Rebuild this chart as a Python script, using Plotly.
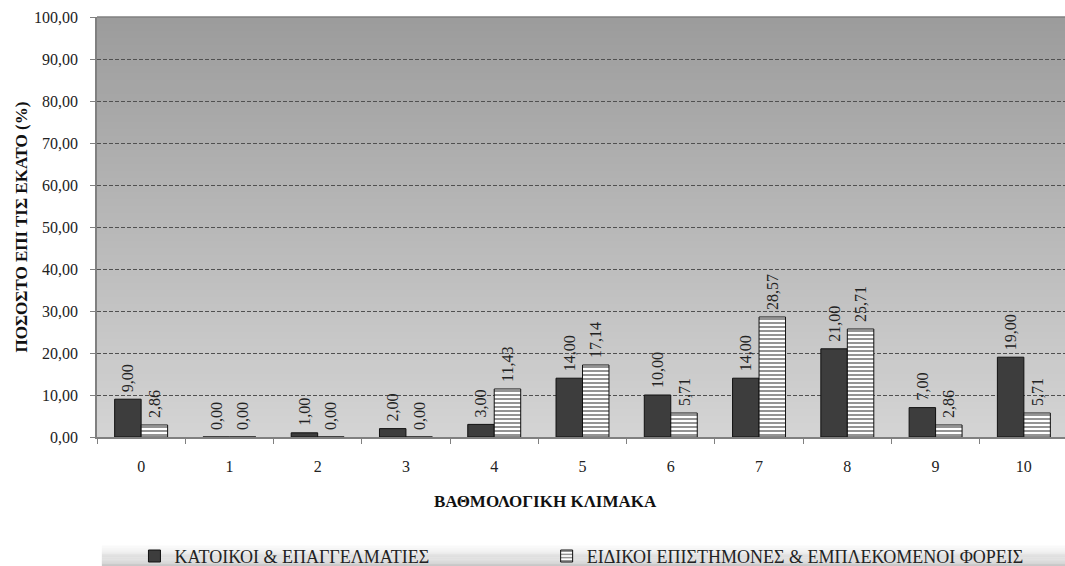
import plotly.graph_objects as go

categories = ["0", "1", "2", "3", "4", "5", "6", "7", "8", "9", "10"]
residents = [9.00, 0.00, 1.00, 2.00, 3.00, 14.00, 10.00, 14.00, 21.00, 7.00, 19.00]
experts = [2.86, 0.00, 0.00, 0.00, 11.43, 17.14, 5.71, 28.57, 25.71, 2.86, 5.71]
name_res = "ΚΑΤΟΙΚΟΙ & ΕΠΑΓΓΕΛΜΑΤΙΕΣ"
name_exp = "ΕΙΔΙΚΟΙ ΕΠΙΣΤΗΜΟΝΕΣ & ΕΜΠΛΕΚΟΜΕΝΟΙ ΦΟΡΕΙΣ"
x_title = "ΒΑΘΜΟΛΟΓΙΚΗ ΚΛΙΜΑΚΑ"
y_title = "ΠΟΣΟΣΤΟ ΕΠΙ ΤΙΣ ΕΚΑΤΟ (%)"
y_ticks = [0, 10, 20, 30, 40, 50, 60, 70, 80, 90, 100]


def fmt(v):
    return f"{v:.2f}".replace(".", ",")


def label(v):
    # leading no-break space keeps a small gap between bar top and rotated label
    return "\u00a0" + fmt(v)


FONT = "Liberation Serif, Times New Roman, DejaVu Serif, serif"

fig = go.Figure()
fig.add_trace(go.Bar(
    x=categories, y=residents, name=name_res, legend="legend",
    marker=dict(color="#3d3d3d", line=dict(color="#111111", width=1)),
    text=[label(v) for v in residents], textposition="outside", textangle=-90,
    constraintext="none",
    textfont=dict(family=FONT, size=16, color="#222222"), cliponaxis=False,
))
fig.add_trace(go.Bar(
    x=categories, y=experts, name=name_exp, legend="legend2",
    marker=dict(color="white", line=dict(color="#111111", width=1),
                pattern=dict(shape="-", fgcolor="#111111", bgcolor="white", size=4, solidity=0.45)),
    text=[label(v) for v in experts], textposition="outside", textangle=-90,
    constraintext="none",
    textfont=dict(family=FONT, size=16, color="#222222"), cliponaxis=False,
))

shapes = []
# plot-area vertical gradient (dark top -> light bottom)
n = 60
top = (156, 156, 156)
bot = (212, 212, 212)
for i in range(n):
    t = i / (n - 1)
    c = tuple(int(round(bot[k] + (top[k] - bot[k]) * t)) for k in range(3))
    shapes.append(dict(type="rect", xref="paper", yref="paper", x0=0, x1=1,
                       y0=i / n, y1=(i + 1) / n, fillcolor=f"rgb{c}",
                       line=dict(width=0), layer="below"))
# legend band gradient
m = 20
ly0, ly1 = -0.31, -0.257
for i in range(m):
    t = i / (m - 1)
    a = (196, 196, 196)
    b = (252, 252, 252)
    c = tuple(int(round(a[k] + (b[k] - a[k]) * t)) for k in range(3))
    shapes.append(dict(type="rect", xref="paper", yref="paper", x0=0.005, x1=1.0,
                       y0=ly0 + (ly1 - ly0) * i / m, y1=ly0 + (ly1 - ly0) * (i + 1) / m,
                       fillcolor=f"rgb{c}", line=dict(width=0), layer="below"))
# top border
shapes.append(dict(type="line", xref="paper", yref="paper", x0=0, x1=1, y0=1, y1=1,
                   line=dict(color="#808080", width=1.5)))

legend_common = dict(orientation="h", xanchor="left", y=-0.24, yanchor="top",
                     bgcolor="rgba(0,0,0,0)", font=dict(family=FONT, size=18, color="#222222"),
                     itemwidth=30)

fig.update_layout(
    width=1065, height=566,
    margin=dict(l=97, r=0, t=17, b=129, autoexpand=False),
    paper_bgcolor="white", plot_bgcolor="rgba(0,0,0,0)",
    barmode="group", bargap=0.4, bargroupgap=0,
    font=dict(family=FONT, size=15, color="#222222"),
    shapes=shapes,
    showlegend=True,
    legend=dict(x=0.0387, **legend_common),
    legend2=dict(x=0.4645, **legend_common),
    xaxis=dict(
        type="category", range=[-0.5, 10.466],
        tickson="boundaries", ticks="outside", ticklen=5, tickcolor="#808080",
        showline=True, linecolor="#808080", linewidth=1.5,
        showgrid=False, zeroline=False, ticklabelstandoff=14,
        tickfont=dict(family=FONT, size=16, color="#222222"),
    ),
    yaxis=dict(
        range=[0, 100], tickvals=y_ticks, ticktext=[fmt(v) for v in y_ticks],
        ticks="outside", ticklen=5, tickcolor="#808080",
        showline=True, linecolor="#808080", linewidth=1.5,
        showgrid=True, gridcolor="#505050", griddash="4px,2px", gridwidth=1,
        zeroline=False, ticklabelstandoff=9,
        tickfont=dict(family=FONT, size=16, color="#222222"),
    ),
    annotations=[
        dict(text=f"<b>{x_title}</b>", xref="paper", yref="paper", x=0.463, y=-0.153,
             xanchor="center", yanchor="middle", showarrow=False,
             font=dict(family=FONT, size=17, color="#111111")),
        dict(text=f"<b>{y_title}</b>", xref="paper", yref="paper", x=-0.078, y=0.5,
             xanchor="center", yanchor="middle", textangle=-90, showarrow=False,
             font=dict(family=FONT, size=17, color="#111111")),
    ],
)

fig.write_html("out.html", config={"displayModeBar": False},
               post_script="document.body.style.margin='0';document.body.style.overflow='hidden';")
